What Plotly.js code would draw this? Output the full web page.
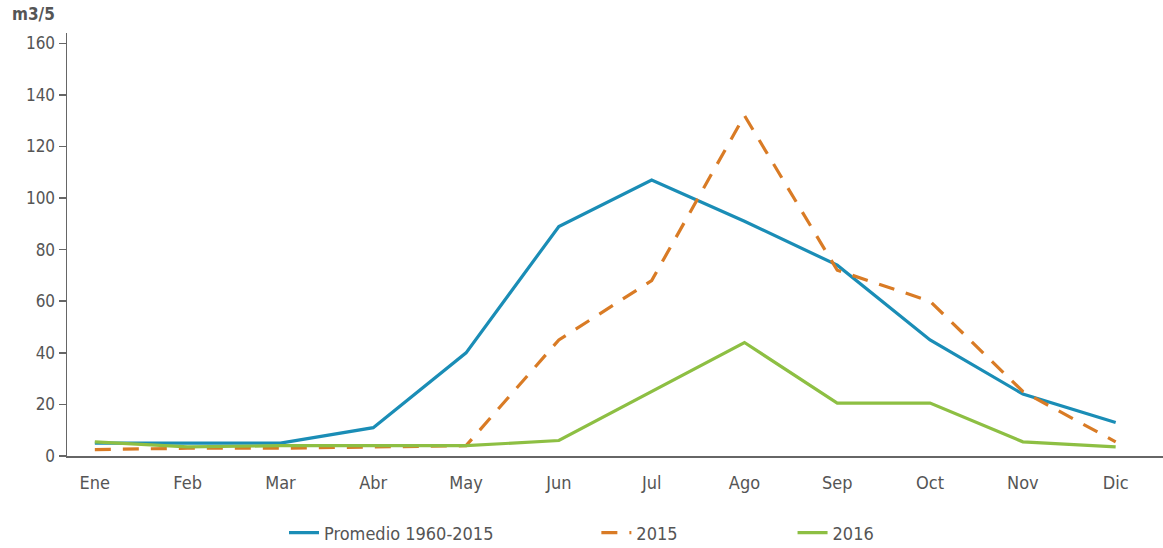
<!DOCTYPE html>
<html><head><meta charset="utf-8">
<script src="https://cdn.plot.ly/plotly-3.0.1.min.js"></script>
<style>body{margin:0;background:#fff}#c{width:1163px;height:548px}
#c svg text{font-stretch:condensed !important}</style>
</head><body><div id="c"></div>
<script>
const months = ["Ene","Feb","Mar","Abr","May","Jun","Jul","Ago","Sep","Oct","Nov","Dic"];
const promedio = [5,5,5,11,40,89,107,91,74,45,24,13];
const y2015 = [2.5,3,3,3.5,4,45,68,132,72,60,25,5.5];
const y2016 = [5.5,3.5,4,4,4,6,25,44,20.5,20.5,5.5,3.5];
const seriesNames = ["Promedio 1960-2015","2015","2016"];

const FONT = "DejaVu Sans Condensed, Liberation Sans Narrow, sans-serif";
const GREY = "#555555";

const traces = [
  {x: months, y: promedio, name: seriesNames[0], mode: "lines", line: {color: "#1a8db6", width: 3.2}, legend: "legend"},
  {x: months, y: y2015, name: seriesNames[1], mode: "lines", line: {color: "#d97b25", width: 3.2, dash: "16px,12px"}, legend: "legend2"},
  {x: months, y: y2016, name: seriesNames[2], mode: "lines", line: {color: "#8dbf43", width: 3.2}, legend: "legend3"}
];

const legBase = {orientation: "h", yanchor: "middle", y: -0.182, xanchor: "left", font: {family: FONT, size: 18, color: GREY}, bgcolor: "rgba(0,0,0,0)"};

const layout = {
  width: 1163, height: 548,
  margin: {l: 67, r: 0, t: 33, b: 92, autoexpand: false},
  paper_bgcolor: "#fff", plot_bgcolor: "#fff",
  font: {family: FONT, color: GREY, size: 16},
  showlegend: true,
  legend: Object.assign({}, legBase, {x: 0.198}),
  legend2: Object.assign({}, legBase, {x: 0.483}),
  legend3: Object.assign({}, legBase, {x: 0.662}),
  xaxis: {
    type: "category", range: [-0.3, 11.51],
    showline: true, linecolor: "#666", linewidth: 1.5,
    showgrid: false, zeroline: false, ticks: "",
    tickfont: {family: FONT, size: 18, color: GREY},
    ticklabelstandoff: 10
  },
  yaxis: {
    range: [0, 164], tickvals: [0,20,40,60,80,100,120,140,160],
    showline: true, linecolor: "#666", linewidth: 1.5,
    showgrid: false, zeroline: false,
    ticks: "outside", ticklen: 7, tickcolor: "#666", tickwidth: 1.5,
    tickfont: {family: FONT, size: 17, color: GREY},
    ticklabelstandoff: 0
  },
  annotations: [{
    text: "<b>m3/5</b>", xref: "paper", yref: "paper", x: -0.052, y: 1.045,
    xanchor: "left", yanchor: "middle", showarrow: false,
    font: {family: FONT, size: 17, color: GREY}
  }]
};

Plotly.newPlot("c", traces, layout, {displayModeBar: false, staticPlot: true});
</script></body></html>
